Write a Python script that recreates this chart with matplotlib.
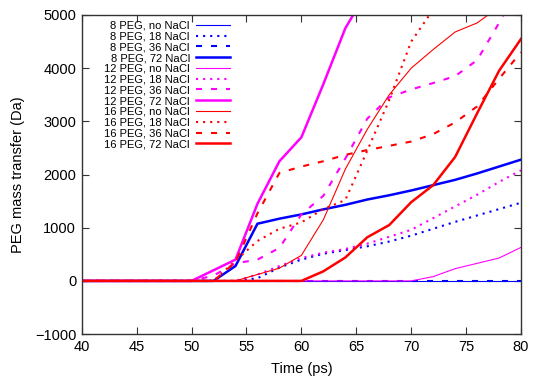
import numpy as np
import matplotlib
matplotlib.use("Agg")
import matplotlib.pyplot as plt

plt.rcParams['font.family'] = ['Liberation Sans', 'DejaVu Sans']

# time axis (ps)
time = [40, 42, 44, 46, 48, 50, 52, 54, 56, 58, 60, 62, 64, 66, 68, 70, 72, 74, 76, 78, 80]
nan = np.nan

# PEG mass transfer (Da)
peg8_no = [0] * 21
peg8_18 = [0, 0, 0, 0, 0, 0, 0, 0, 50, 250, 400, 510, 580, 650, 740, 850, 980, 1110, 1230, 1350, 1470]
peg8_36 = [0] * 21
peg8_72 = [0, 0, 0, 0, 0, 0, 0, 280, 1075, 1170, 1250, 1345, 1430, 1530, 1610, 1700, 1800, 1900, 2020, 2150, 2280]

peg12_no = [0, 0, 0, 0, 0, 0, 0, 0, 0, 0, 0, 0, 0, 0, 0, 0, 80, 230, 330, 430, 630]
peg12_18 = [0, 0, 0, 0, 0, 0, 0, 0, 120, 280, 430, 530, 600, 700, 830, 960, 1180, 1400, 1620, 1860, 2080]
peg12_36 = [0, 0, 0, 0, 0, 0, 100, 330, 400, 620, 1250, 1600, 2300, 3050, 3450, 3600, 3720, 3850, 4150, 4850, 5600]
peg12_72 = [0, 0, 0, 0, 0, 0, 200, 400, 1450, 2250, 2700, 3700, 4750, 5450, nan, nan, nan, nan, nan, nan, nan]

peg16_no = [0, 0, 0, 0, 0, 0, 0, 0, 120, 240, 480, 1150, 2100, 2850, 3500, 4000, 4350, 4680, 4850, 5150, nan]
peg16_18 = [0, 0, 0, 0, 0, 0, 0, 380, 750, 980, 1100, 1350, 1520, 2450, 3400, 4500, 5100, nan, nan, nan, nan]
peg16_36 = [0, 0, 0, 0, 0, 0, 0, 350, 1270, 2030, 2150, 2250, 2370, 2460, 2540, 2620, 2760, 2980, 3280, 3800, 4300]
peg16_72 = [0, 0, 0, 0, 0, 0, 0, 0, 0, 0, 0, 180, 440, 820, 1050, 1480, 1800, 2330, 3150, 3950, 4550]

series = [
    ('8 PEG, no NaCl', peg8_no, 'blue', 'no'),
    ('8 PEG, 18 NaCl', peg8_18, 'blue', '18'),
    ('8 PEG, 36 NaCl', peg8_36, 'blue', '36'),
    ('8 PEG, 72 NaCl', peg8_72, 'blue', '72'),
    ('12 PEG, no NaCl', peg12_no, 'magenta', 'no'),
    ('12 PEG, 18 NaCl', peg12_18, 'magenta', '18'),
    ('12 PEG, 36 NaCl', peg12_36, 'magenta', '36'),
    ('12 PEG, 72 NaCl', peg12_72, 'magenta', '72'),
    ('16 PEG, no NaCl', peg16_no, 'red', 'no'),
    ('16 PEG, 18 NaCl', peg16_18, 'red', '18'),
    ('16 PEG, 36 NaCl', peg16_36, 'red', '36'),
    ('16 PEG, 72 NaCl', peg16_72, 'red', '72'),
]

# line style per salt concentration
styles = {
    'no': dict(lw=0.8, ls='-'),
    '18': dict(lw=1.5, ls=(0, (1.0, 2.4))),
    '36': dict(lw=1.5, ls=(0, (2.9, 4.3))),
    '72': dict(lw=1.8, ls='-'),
}

fig = plt.figure(figsize=(5.45, 3.84), dpi=100)
ax = fig.add_axes([0.150, 0.130, 0.806, 0.831])

for label, vals, color, salt in series:
    ax.plot(time, vals, color=color, label=label, **styles[salt])

ax.set_xlim(40, 80)
ax.set_ylim(-1000, 5000)
ax.set_xticks(range(40, 81, 5))
ax.set_yticks(range(-1000, 5001, 1000))
ax.tick_params(direction='in', top=True, right=True, length=5, width=0.8,
               labelsize=10.5, colors='#333333', labelcolor='black', pad=4)
for sp in ax.spines.values():
    sp.set_linewidth(1.0)
    sp.set_color('#333333')

ax.set_xlabel('Time (ps)', fontsize=10.5, labelpad=6)
ax.set_ylabel('PEG mass transfer (Da)', fontsize=10.5, labelpad=7)

ax.legend(loc='upper right', bbox_to_anchor=(0.337, 0.982), frameon=False,
          markerfirst=False, fontsize=8, handlelength=3.0, handletextpad=0.6,
          labelspacing=0.07, borderpad=0, borderaxespad=0)

fig.savefig('out.png', dpi=100)
